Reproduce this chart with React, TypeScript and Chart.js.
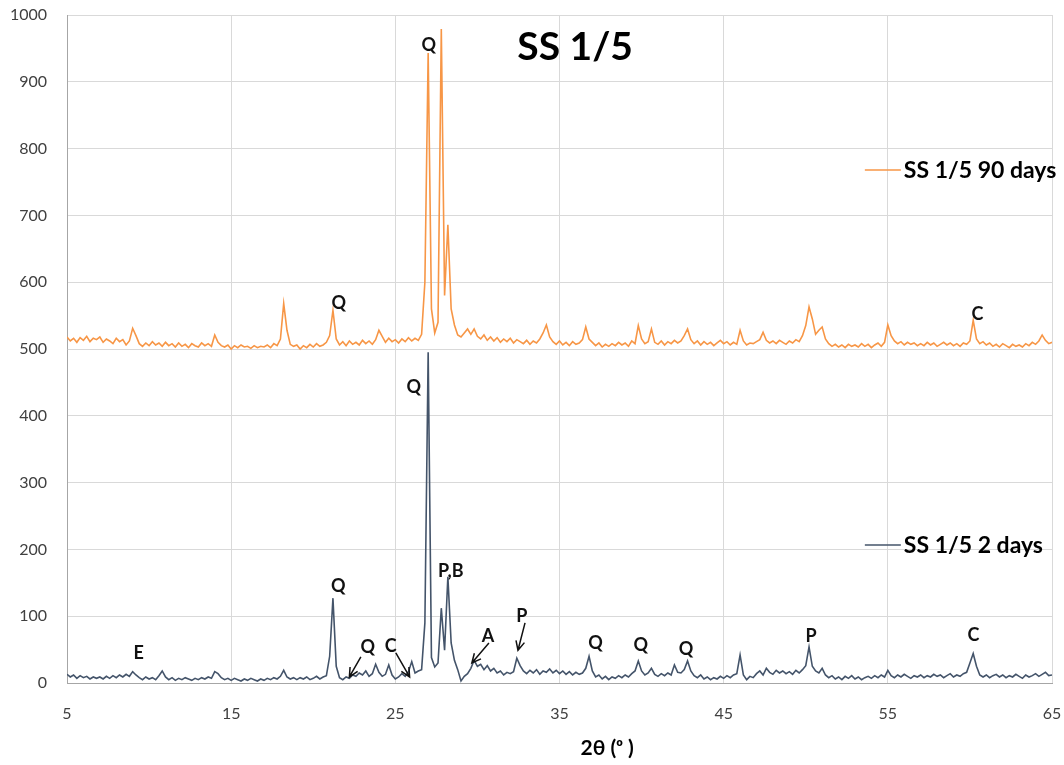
import { useEffect, useRef } from 'react';
import { Chart, registerables } from 'chart.js';

Chart.register(...registerables);

// 2θ (degrees)
const twoTheta = [
  5.0, 5.2, 5.4, 5.6, 5.8, 6.0, 6.2, 6.4, 6.6, 6.8,
  7.0, 7.2, 7.4, 7.6, 7.8, 8.0, 8.2, 8.4, 8.6, 8.8,
  9.0, 9.2, 9.4, 9.6, 9.8, 10.0, 10.2, 10.4, 10.6, 10.8,
  11.0, 11.2, 11.4, 11.6, 11.8, 12.0, 12.2, 12.4, 12.6, 12.8,
  13.0, 13.2, 13.4, 13.6, 13.8, 14.0, 14.2, 14.4, 14.6, 14.8,
  15.0, 15.2, 15.4, 15.6, 15.8, 16.0, 16.2, 16.4, 16.6, 16.8,
  17.0, 17.2, 17.4, 17.6, 17.8, 18.0, 18.2, 18.4, 18.6, 18.8,
  19.0, 19.2, 19.4, 19.6, 19.8, 20.0, 20.2, 20.4, 20.6, 20.8,
  21.0, 21.2, 21.4, 21.6, 21.8, 22.0, 22.2, 22.4, 22.6, 22.8,
  23.0, 23.2, 23.4, 23.6, 23.8, 24.0, 24.2, 24.4, 24.6, 24.8,
  25.0, 25.2, 25.4, 25.6, 25.8, 26.0, 26.2, 26.4, 26.6, 26.8,
  27.0, 27.2, 27.4, 27.6, 27.8, 28.0, 28.2, 28.4, 28.6, 28.8,
  29.0, 29.2, 29.4, 29.6, 29.8, 30.0, 30.2, 30.4, 30.6, 30.8,
  31.0, 31.2, 31.4, 31.6, 31.8, 32.0, 32.2, 32.4, 32.6, 32.8,
  33.0, 33.2, 33.4, 33.6, 33.8, 34.0, 34.2, 34.4, 34.6, 34.8,
  35.0, 35.2, 35.4, 35.6, 35.8, 36.0, 36.2, 36.4, 36.6, 36.8,
  37.0, 37.2, 37.4, 37.6, 37.8, 38.0, 38.2, 38.4, 38.6, 38.8,
  39.0, 39.2, 39.4, 39.6, 39.8, 40.0, 40.2, 40.4, 40.6, 40.8,
  41.0, 41.2, 41.4, 41.6, 41.8, 42.0, 42.2, 42.4, 42.6, 42.8,
  43.0, 43.2, 43.4, 43.6, 43.8, 44.0, 44.2, 44.4, 44.6, 44.8,
  45.0, 45.2, 45.4, 45.6, 45.8, 46.0, 46.2, 46.4, 46.6, 46.8,
  47.0, 47.2, 47.4, 47.6, 47.8, 48.0, 48.2, 48.4, 48.6, 48.8,
  49.0, 49.2, 49.4, 49.6, 49.8, 50.0, 50.2, 50.4, 50.6, 50.8,
  51.0, 51.2, 51.4, 51.6, 51.8, 52.0, 52.2, 52.4, 52.6, 52.8,
  53.0, 53.2, 53.4, 53.6, 53.8, 54.0, 54.2, 54.4, 54.6, 54.8,
  55.0, 55.2, 55.4, 55.6, 55.8, 56.0, 56.2, 56.4, 56.6, 56.8,
  57.0, 57.2, 57.4, 57.6, 57.8, 58.0, 58.2, 58.4, 58.6, 58.8,
  59.0, 59.2, 59.4, 59.6, 59.8, 60.0, 60.2, 60.4, 60.6, 60.8,
  61.0, 61.2, 61.4, 61.6, 61.8, 62.0, 62.2, 62.4, 62.6, 62.8,
  63.0, 63.2, 63.4, 63.6, 63.8, 64.0, 64.2, 64.4, 64.6, 64.8,
  65.0,
];

// SS 1/5 90 days (intensity)
const ss90days = [
  518, 512, 516, 510, 517, 513, 519, 511, 516, 514,
  518, 510, 515, 512, 508, 516, 511, 514, 506, 512,
  531, 520, 508, 504, 509, 505, 511, 506, 509, 504,
  510, 505, 508, 503, 509, 504, 507, 502, 508, 505,
  503, 509, 505, 508, 504, 521, 510, 505, 503, 506,
  500, 505, 502, 506, 503, 504, 501, 505, 502, 504,
  503, 506, 502, 508, 505, 515, 568, 528, 507, 504,
  506, 500, 505, 502, 507, 503, 508, 504, 506, 510,
  520, 558, 515, 506, 511, 505, 512, 507, 510, 506,
  513, 508, 512, 507, 514, 528, 519, 510, 516, 511,
  514, 509, 515, 511, 517, 512, 516, 513, 522, 600,
  943, 560, 524, 540, 979, 580, 686, 560, 536, 521,
  518, 524, 530, 522, 530, 519, 515, 521, 513, 518,
  512, 517, 510, 515, 511, 516, 509, 514, 511, 508,
  513, 507, 512, 509, 515, 524, 536, 518, 511, 507,
  512, 506, 510, 505, 511, 507, 509, 514, 533, 515,
  510, 505, 509, 503, 507, 504, 508, 505, 510, 506,
  509, 504, 512, 508, 535, 515, 508, 511, 530, 510,
  507, 512, 506, 511, 508, 513, 509, 512, 520, 530,
  514, 508, 512, 506, 511, 507, 510, 505, 509, 513,
  508, 511, 506, 510, 507, 528, 512, 506, 509, 508,
  511, 514, 525, 513, 509, 512, 508, 513, 510, 507,
  512, 509, 514, 511, 520, 535, 563, 545, 522, 528,
  533, 515, 508, 504, 507, 503, 506, 502, 507, 504,
  506, 503, 508, 504, 507, 502, 506, 509, 504, 510,
  536, 520, 512, 508, 511, 506, 510, 507, 509, 505,
  508, 505, 510, 506, 509, 504, 507, 510, 506, 509,
  505, 508, 504, 509, 507, 512, 543, 515, 508, 511,
  506, 509, 504, 507, 503, 508, 505, 502, 507, 504,
  506, 503, 508, 505, 510, 507, 512, 521, 513, 508,
  510,
];

// SS 1/5 2 days (intensity)
const ss2days = [
  13, 9, 12, 7, 11, 8, 10, 6, 9, 7,
  9, 6, 10, 7, 11, 8, 12, 9, 13, 10,
  17, 12, 8, 5, 9, 6, 8, 5, 11, 18,
  9, 5, 8, 4, 7, 5, 8, 6, 4, 7,
  5, 8, 6, 9, 7, 17, 14, 8, 5, 7,
  4, 7, 5, 3, 6, 4, 7, 5, 3, 6,
  4, 7, 5, 8, 6, 10, 19, 9, 6, 8,
  5, 8, 6, 9, 5, 7, 10, 6, 9, 11,
  40, 127, 25, 8, 5, 9, 7, 12, 10, 15,
  12, 18, 10, 14, 28, 16, 10, 13, 27, 12,
  6, 9, 14, 10, 17, 32, 15, 18, 20, 90,
  495, 38, 24, 30, 112, 49, 159, 60, 34, 20,
  3, 10, 14, 22, 34, 25, 28, 20, 26, 18,
  22, 15, 18, 12, 16, 14, 17, 37, 26, 18,
  14, 19, 15, 20, 13, 18, 16, 21, 15, 19,
  14, 18, 13, 17, 12, 16, 13, 15, 22, 40,
  18, 9, 12, 6, 10, 5, 9, 7, 11, 8,
  12, 9, 14, 18, 33, 18, 12, 15, 22, 13,
  10, 14, 11, 15, 12, 27, 16, 15, 20, 33,
  18, 11, 8, 12, 6, 9, 5, 8, 6, 10,
  7, 11, 8, 12, 14, 42, 12, 5, 10, 8,
  14, 18, 12, 22, 16, 13, 19, 15, 18, 14,
  17, 13, 19, 15, 20, 26, 54, 25, 18, 15,
  22, 12, 8, 11, 6, 9, 5, 10, 7, 11,
  6, 9, 5, 8, 10, 7, 11, 8, 12, 9,
  19, 11, 8, 12, 9, 13, 10, 7, 11, 9,
  12, 8, 11, 9, 13, 10, 12, 8, 11, 14,
  9, 12, 10, 14, 16, 30, 44, 25, 12, 9,
  12, 8, 11, 13, 9, 12, 8, 11, 9, 13,
  10, 7, 12, 9, 11, 14, 10, 13, 16, 11,
  12,
];

const xTickValues = [5, 15, 25, 35, 45, 55, 65];
const seriesNames = ['SS 1/5 90 days', 'SS 1/5 2 days'];
const chartTitle = 'SS 1/5';
const xAxisTitle = '2θ (ᵒ )';

// phase labels: [text, 2θ, intensity]
const peakLabels: [string, number, number][] = [
  ['Q', 27.04, 955],
  ['Q', 21.55, 569],
  ['C', 60.46, 552],
  ['Q', 26.13, 443],
  ['Q', 21.52, 145],
  ['P,B', 28.38, 168],
  ['E', 9.36, 45],
  ['Q', 23.32, 54],
  ['C', 24.72, 55],
  ['A', 30.64, 70],
  ['P', 32.71, 100],
  ['Q', 37.2, 60],
  ['Q', 39.95, 57],
  ['Q', 42.71, 51],
  ['P', 50.33, 70],
  ['C', 60.21, 72],
];

// arrows: [from 2θ, from I, to 2θ, to I]
const peakArrows: [number, number, number, number][] = [
  [22.9, 39, 22.2, 9],
  [25.03, 45, 25.87, 9],
  [30.7, 60, 29.66, 30],
  [32.9, 90, 32.47, 49],
];

const COLORS = ['#F79646', '#44546A'];

const overlayPlugin = {
  id: 'overlay',
  afterDatasetsDraw(chart: any) {
    const { ctx, scales } = chart;
    const xs = scales.x;
    const ys = scales.y;
    const px = (v: number) => xs.getPixelForValue(v);
    const py = (v: number) => ys.getPixelForValue(v);
    ctx.save();

    // chart title
    ctx.fillStyle = '#000';
    ctx.textAlign = 'center';
    ctx.textBaseline = 'middle';
    ctx.font = 'bold 39px Lato, "Noto Sans", sans-serif';
    ctx.fillText(chartTitle, px(35.95), py(952));

    // peak labels
    ctx.font = 'bold 18px Lato, "Noto Sans", sans-serif';
    ctx.fillStyle = '#111';
    peakLabels.forEach(([t, xv, yv]) => {
      ctx.fillText(t, px(xv), py(yv));
    });

    // arrows
    ctx.strokeStyle = '#111';
    ctx.lineWidth = 1.5;
    peakArrows.forEach(([x1, y1, x2, y2]) => {
      const ax = px(x1), ay = py(y1), bx = px(x2), by = py(y2);
      ctx.beginPath();
      ctx.moveTo(ax, ay);
      ctx.lineTo(bx, by);
      const ang = Math.atan2(by - ay, bx - ax);
      const L = 10;
      ctx.moveTo(bx - L * Math.cos(ang - 0.45), by - L * Math.sin(ang - 0.45));
      ctx.lineTo(bx, by);
      ctx.lineTo(bx - L * Math.cos(ang + 0.45), by - L * Math.sin(ang + 0.45));
      ctx.stroke();
    });

    // inline legend
    const legendAnchors: [number, number][] = [[53.6, 768], [53.6, 206.6]];
    ctx.font = 'bold 23px Lato, "Noto Sans", sans-serif';
    ctx.textAlign = 'left';
    seriesNames.forEach((name, i) => {
      const lx = px(legendAnchors[i][0]);
      const ly = py(legendAnchors[i][1]);
      ctx.strokeStyle = COLORS[i];
      ctx.lineWidth = 1.5;
      ctx.beginPath();
      ctx.moveTo(lx, ly);
      ctx.lineTo(lx + 36, ly);
      ctx.stroke();
      ctx.fillStyle = '#000';
      ctx.fillText(name, lx + 39, ly + 1);
    });

    // x axis title
    ctx.font = 'bold 21px Lato, "DejaVu Sans", sans-serif';
    ctx.textAlign = 'center';
    ctx.fillStyle = '#000';
    ctx.fillText(xAxisTitle, px(37.9), chart.chartArea.bottom + 65);

    ctx.restore();
  },
};

export default function App() {
  const ref = useRef<HTMLCanvasElement | null>(null);

  useEffect(() => {
    if (!ref.current) return;
    const chart = new Chart(ref.current, {
      type: 'line',
      data: {
        datasets: [
          {
            label: seriesNames[0],
            data: twoTheta.map((x, i) => ({ x, y: ss90days[i] })),
            borderColor: COLORS[0],
            borderWidth: 1.6,
            pointRadius: 0,
            tension: 0,
          },
          {
            label: seriesNames[1],
            data: twoTheta.map((x, i) => ({ x, y: ss2days[i] })),
            borderColor: COLORS[1],
            borderWidth: 1.6,
            pointRadius: 0,
            tension: 0,
          },
        ],
      },
      options: {
        animation: false,
        responsive: false,
        layout: { padding: { top: 15, right: 12, left: 0, bottom: 0 } },
        plugins: {
          legend: { display: false },
          tooltip: { enabled: false },
          title: { display: false },
        },
        scales: {
          x: {
            type: 'linear',
            min: 5,
            max: 65,
            afterBuildTicks: (scale: any) => {
              scale.ticks = xTickValues.map((v) => ({ value: v }));
            },
            afterFit: (scale: any) => {
              scale.height = 82;
              scale.paddingLeft = 0;
              scale.paddingRight = 0;
            },
            ticks: {
              color: '#404040',
              font: { family: 'Lato', size: 16 },
              padding: 21,
              maxRotation: 0,
              autoSkip: false,
              callback: (v: any) => String(v),
            },
            grid: { color: '#d9d9d9', lineWidth: 1, drawTicks: false },
            border: { color: '#a6a6a6', width: 1 },
          },
          y: {
            type: 'linear',
            min: 0,
            max: 1000,
            afterFit: (scale: any) => {
              scale.width = 67;
              scale.paddingTop = 0;
              scale.paddingBottom = 0;
            },
            ticks: {
              stepSize: 100,
              color: '#404040',
              font: { family: 'Lato', size: 16 },
              padding: 20,
              callback: (v: any) => String(v),
            },
            grid: { color: '#d9d9d9', lineWidth: 1, drawTicks: false },
            border: { color: '#a6a6a6', width: 1 },
          },
        },
      },
      plugins: [overlayPlugin],
    });
    return () => chart.destroy();
  }, []);

  return (
    <div style={{ position: 'fixed', left: 0, top: 0, width: 1064, height: 765, background: '#fff' }}>
      <canvas ref={ref} width={1064} height={765} style={{ display: 'block' }} />
    </div>
  );
}
